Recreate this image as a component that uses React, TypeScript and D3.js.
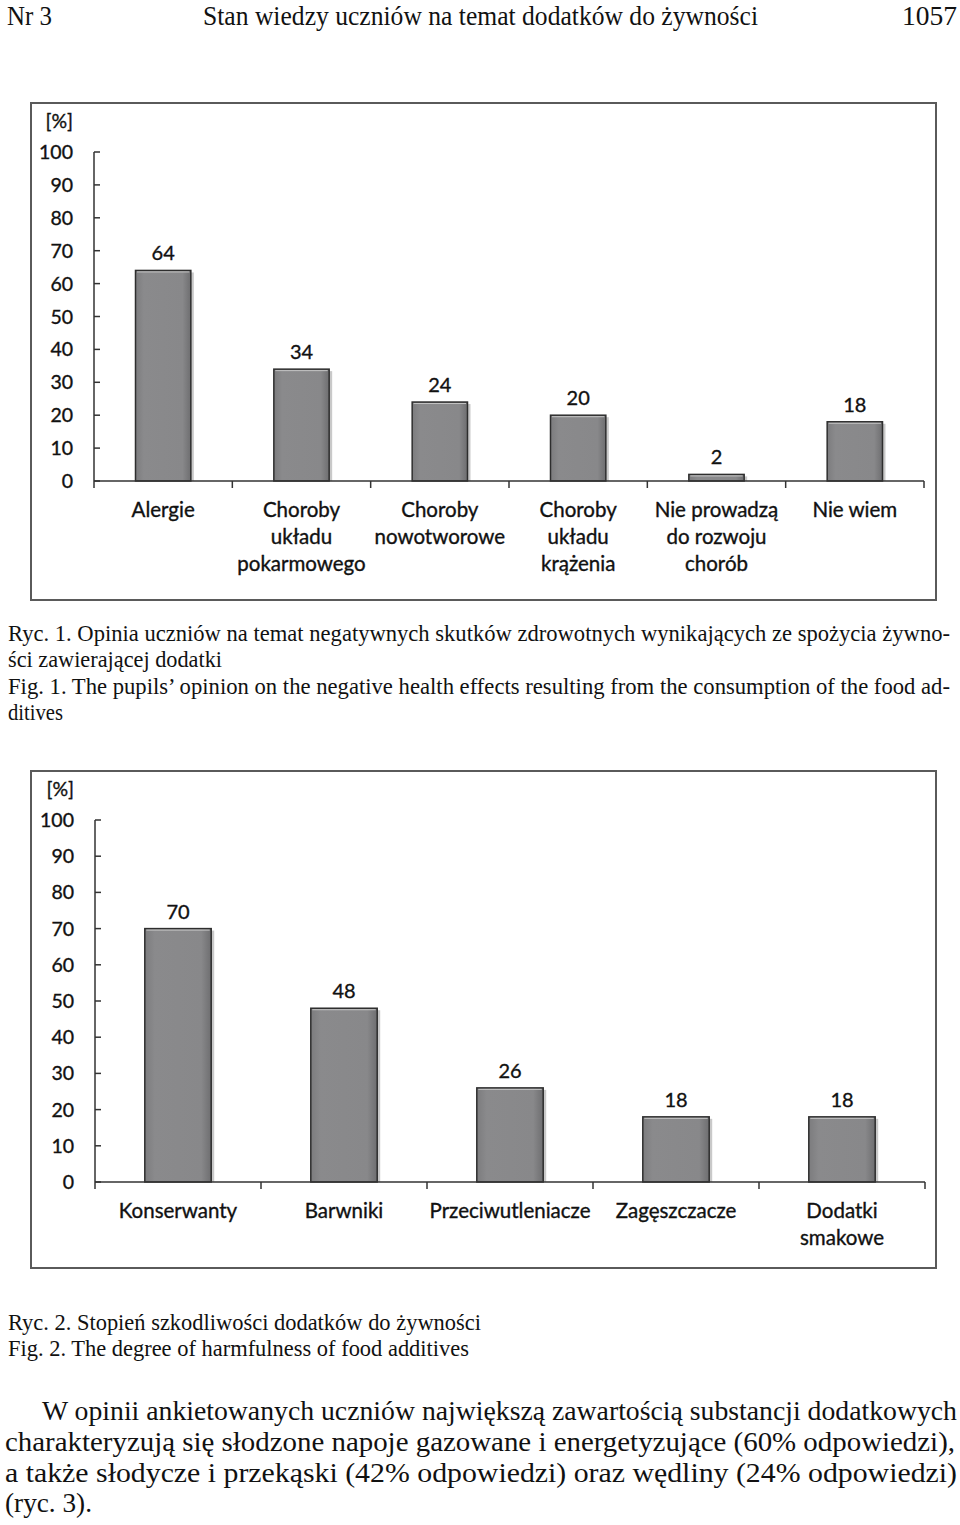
import React from "react";
import * as d3 from "d3";

// chart 1: negative health effects
const effectLabels = [
  ["Alergie"],
  ["Choroby", "układu", "pokarmowego"],
  ["Choroby", "nowotworowe"],
  ["Choroby", "układu", "krążenia"],
  ["Nie prowadzą", "do rozwoju", "chorób"],
  ["Nie wiem"],
];
const effectValues = [64, 34, 24, 20, 2, 18];

// chart 2: harmfulness of additives
const additiveLabels = [
  ["Konserwanty"],
  ["Barwniki"],
  ["Przeciwutleniacze"],
  ["Zagęszczacze"],
  ["Dodatki", "smakowe"],
];
const additiveValues = [70, 48, 26, 18, 18];

const yTicks = [0, 10, 20, 30, 40, 50, 60, 70, 80, 90, 100];

const chartFont = "Lato, 'Open Sans', sans-serif";
const serif = "Liberation Serif";

type ChartProps = {
  labels: string[][];
  values: number[];
  frame: { x: number; y: number; w: number; h: number };
  axisX: number;
  axisEnd: number;
  y0: number;
  y100: number;
};

const ink = { fill: "#111", stroke: "#111", strokeWidth: 0.35 };

const BarChart = ({ labels, values, frame, axisX, axisEnd, y0, y100 }: ChartProps) => {
  const keys = labels.map((l) => l.join(" "));
  const x = d3
    .scaleBand<string>()
    .domain(keys)
    .range([axisX, axisEnd])
    .paddingInner(0.6)
    .paddingOuter(0.3);
  const y = d3.scaleLinear().domain([0, 100]).range([y0, y100]);
  const step = x.step();
  const bounds = d3.range(keys.length + 1).map((i) => axisX + i * step);

  return (
    <g>
      <rect x={frame.x} y={frame.y} width={frame.w} height={frame.h} fill="#fff" stroke="#5a5a5a" strokeWidth={2} />
      <text x={axisX - 21} y={frame.y + 25} textAnchor="end" fontFamily={chartFont} fontSize={19.5} {...ink}>
        [%]
      </text>
      {/* y axis */}
      <line x1={axisX} x2={axisX} y1={y(100)} y2={y(0)} stroke="#333" strokeWidth={1.5} />
      {yTicks.map((t) => (
        <g key={t}>
          <line x1={axisX} x2={axisX + 6} y1={y(t)} y2={y(t)} stroke="#333" strokeWidth={1.5} />
          <text x={axisX - 21} y={y(t)} dy="0.36em" textAnchor="end" fontFamily={chartFont} fontSize={19.5} {...ink}>
            {t}
          </text>
        </g>
      ))}
      {/* bars */}
      {keys.map((k, i) => {
        const bx = x(k) as number;
        const by = y(values[i]);
        const bh = y(0) - by;
        return (
          <g key={k}>
            <rect x={bx + 3} y={by + 2} width={x.bandwidth()} height={bh - 2} fill="#c9c9c9" />
            <rect x={bx} y={by} width={x.bandwidth()} height={bh} fill="url(#barFill)" stroke="#2e2e2e" strokeWidth={1.5} />
            <line x1={bx + 1.5} x2={bx + x.bandwidth() - 1.5} y1={by + 1.5} y2={by + 1.5} stroke="#c4c4c4" strokeWidth={1} />
            <text x={bx + x.bandwidth() / 2} y={by - 10} textAnchor="middle" fontFamily={chartFont} fontSize={20} {...ink}>
              {values[i]}
            </text>
          </g>
        );
      })}
      {/* x axis */}
      <line x1={axisX} x2={axisEnd} y1={y(0)} y2={y(0)} stroke="#333" strokeWidth={1.5} />
      {bounds.map((b, i) => (
        <line key={i} x1={b} x2={b} y1={y(0)} y2={y(0) + 7} stroke="#333" strokeWidth={1.5} />
      ))}
      {keys.map((k, i) => (
        <text key={k} textAnchor="middle" fontFamily={chartFont} fontSize={20.5} {...ink}>
          {labels[i].map((line, j) => (
            <tspan key={j} x={(x(k) as number) + x.bandwidth() / 2} y={y(0) + 36 + j * 27}>
              {line}
            </tspan>
          ))}
        </text>
      ))}
    </g>
  );
};

const Line = ({ x, y, w, size, children }: { x: number; y: number; w: number; size: number; children: string }) => (
  <text x={x} y={y} textLength={w} lengthAdjust="spacingAndGlyphs" fontFamily={serif} fontSize={size} fill="#111">
    {children}
  </text>
);

export default function App() {
  return (
    <svg width={960} height={1525} style={{ position: "absolute", left: 0, top: 0 }}>
      <defs>
        <linearGradient id="barFill" x1="0" x2="1" y1="0" y2="0">
          <stop offset="0" stopColor="#7c7c7e" />
          <stop offset="0.15" stopColor="#8a8a8c" />
          <stop offset="0.85" stopColor="#88888a" />
          <stop offset="1" stopColor="#6e6e70" />
        </linearGradient>
      </defs>
      <rect width={960} height={1525} fill="#fff" />

      <Line x={7} y={25} w={45} size={27}>Nr 3</Line>
      <Line x={203} y={25} w={555} size={27}>Stan wiedzy uczniów na temat dodatków do żywności</Line>
      <Line x={902} y={25} w={55} size={27}>1057</Line>

      <BarChart
        labels={effectLabels}
        values={effectValues}
        frame={{ x: 31, y: 103, w: 905, h: 497 }}
        axisX={94}
        axisEnd={924}
        y0={481}
        y100={152}
      />

      <Line x={8} y={641} w={942} size={22.5}>
        Ryc. 1. Opinia uczniów na temat negatywnych skutków zdrowotnych wynikających ze spożycia żywno-
      </Line>
      <Line x={8} y={667} w={214} size={22.5}>ści zawierającej dodatki</Line>
      <Line x={8} y={694} w={942} size={22.5}>
        Fig. 1. The pupils’ opinion on the negative health effects resulting from the consumption of the food ad-
      </Line>
      <Line x={8} y={720} w={55} size={22.5}>ditives</Line>

      <BarChart
        labels={additiveLabels}
        values={additiveValues}
        frame={{ x: 31, y: 771, w: 905, h: 497 }}
        axisX={95}
        axisEnd={925}
        y0={1182}
        y100={820}
      />

      <Line x={8} y={1330} w={473} size={22.5}>Ryc. 2. Stopień szkodliwości dodatków do żywności</Line>
      <Line x={8} y={1356} w={461} size={22.5}>Fig. 2. The degree of harmfulness of food additives</Line>

      <Line x={42} y={1420} w={915} size={27.5}>
        W opinii ankietowanych uczniów największą zawartością substancji dodatkowych
      </Line>
      <Line x={5} y={1451} w={950} size={27.5}>
        charakteryzują się słodzone napoje gazowane i energetyzujące (60% odpowiedzi),
      </Line>
      <Line x={5} y={1482} w={952} size={27.5}>
        a także słodycze i przekąski (42% odpowiedzi) oraz wędliny (24% odpowiedzi)
      </Line>
      <Line x={5} y={1512} w={87} size={27.5}>(ryc. 3).</Line>
    </svg>
  );
}
